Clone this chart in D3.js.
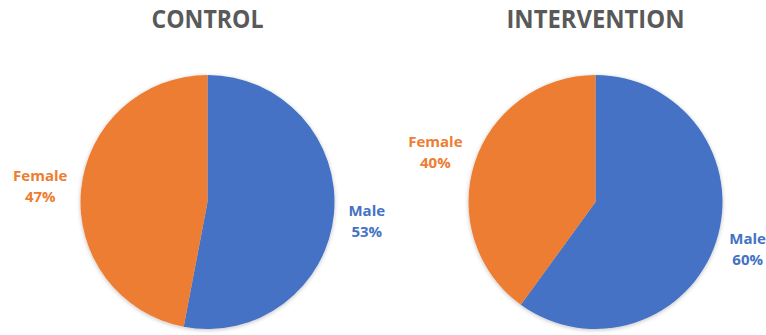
<!DOCTYPE html>
<html>
<head>
<meta charset="utf-8">
<script src="https://cdn.jsdelivr.net/npm/d3@7"></script>
<style>
  body { margin: 0; background: #fff; }
  text { font-family: "Open Sans", "DejaVu Sans", sans-serif; font-weight: bold; }
</style>
</head>
<body>
<div id="chart"></div>
<script>
// data
const groups = ['CONTROL', 'INTERVENTION'];
const categories = ['Male', 'Female'];
const controlValues = [53, 47];
const interventionValues = [60, 40];

const colors = d3.scaleOrdinal().domain(categories).range(['#4472C4', '#ED7D31']);

const width = 766, height = 335;
const radius = 127;
const centers = [207.5, 595.5];
const cy = 202;
const titleWidths = [112, 178];
// small [dx, dy] nudges for the "best fit" labels, per chart: [Male, Female]
const labelNudge = [[[0, 0], [-8, -4]], [[0, -6], [-8, -4]]];

const svg = d3.select('#chart').append('svg')
  .attr('width', width)
  .attr('height', height);

const defs = svg.append('defs');
const shadow = defs.append('filter').attr('id', 'soft')
  .attr('x', '-10%').attr('y', '-10%').attr('width', '120%').attr('height', '120%');
shadow.append('feGaussianBlur').attr('in', 'SourceAlpha').attr('stdDeviation', 2).attr('result', 'b');
shadow.append('feOffset').attr('in', 'b').attr('dy', 1).attr('result', 'o');
shadow.append('feComponentTransfer').attr('in', 'o').attr('result', 'f')
  .append('feFuncA').attr('type', 'linear').attr('slope', 0.25);
const merge = shadow.append('feMerge');
merge.append('feMergeNode').attr('in', 'f');
merge.append('feMergeNode').attr('in', 'SourceGraphic');

const pie = d3.pie().sort(null).value(d => d.value);
const arc = d3.arc().innerRadius(0).outerRadius(radius);
const labelArc = d3.arc().innerRadius(160).outerRadius(160);

[controlValues, interventionValues].forEach((vals, gi) => {
  const rows = categories.map((c, i) => ({ name: c, value: vals[i] }));
  const g = svg.append('g').attr('transform', `translate(${centers[gi]},${cy})`);

  svg.append('text')
    .attr('x', centers[gi])
    .attr('y', 28)
    .attr('text-anchor', 'middle')
    .attr('font-size', 25)
    .attr('fill', '#595959')
    .attr('textLength', titleWidths[gi])
    .attr('lengthAdjust', 'spacingAndGlyphs')
    .text(groups[gi]);

  const arcs = pie(rows);

  g.append('g').attr('filter', 'url(#soft)')
    .selectAll('path')
    .data(arcs).enter().append('path')
      .attr('d', arc)
      .attr('fill', d => colors(d.data.name));

  const labels = g.selectAll('text.lbl')
    .data(arcs).enter().append('text')
      .attr('class', 'lbl')
      .attr('text-anchor', 'middle')
      .attr('font-size', 15)
      .attr('fill', d => colors(d.data.name))
      .attr('transform', (d, i) => {
        const p = labelArc.centroid(d);
        const n = labelNudge[gi][i];
        return `translate(${p[0] + n[0]},${p[1] + n[1]})`;
      });
  labels.append('tspan').attr('x', 0).attr('dy', '-0.1em').text(d => d.data.name);
  labels.append('tspan').attr('x', 0).attr('dy', '1.4em').text(d => d.data.value + '%');
});
</script>
</body>
</html>
